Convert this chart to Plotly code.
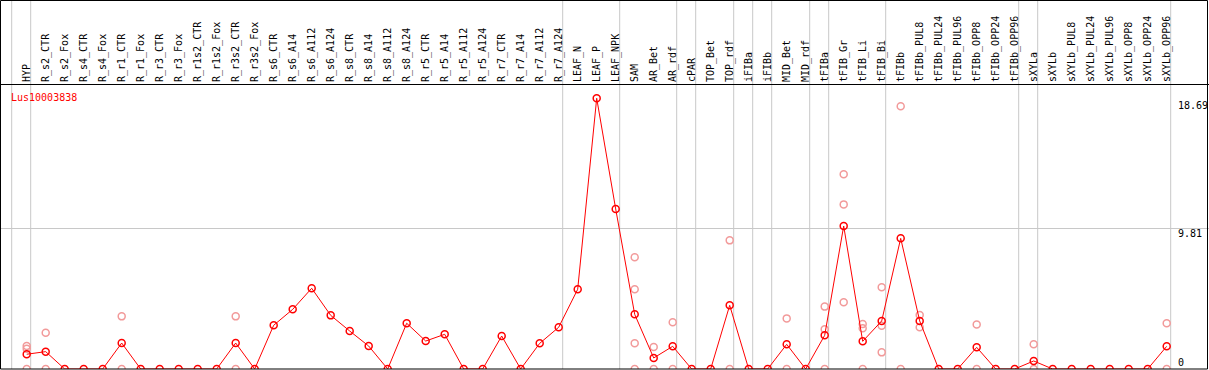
import plotly.graph_objects as go

categories = [
    "HYP",
    "R_s2_CTR", "R_s2_Fox", "R_s4_CTR", "R_s4_Fox", "R_r1_CTR", "R_r1_Fox",
    "R_r3_CTR", "R_r3_Fox", "R_r1s2_CTR", "R_r1s2_Fox", "R_r3s2_CTR", "R_r3s2_Fox",
    "R_s6_CTR", "R_s6_A14", "R_s6_A112", "R_s6_A124",
    "R_s8_CTR", "R_s8_A14", "R_s8_A112", "R_s8_A124",
    "R_r5_CTR", "R_r5_A14", "R_r5_A112", "R_r5_A124",
    "R_r7_CTR", "R_r7_A14", "R_r7_A112", "R_r7_A124",
    "LEAF_N", "LEAF_P", "LEAF_NPK",
    "SAM", "AR_Bet", "AR_rdf",
    "cPAR",
    "TOP_Bet", "TOP_rdf",
    "iFIBa",
    "iFIBb",
    "MID_Bet", "MID_rdf",
    "tFIBa",
    "tFIB_Gr", "tFIB_Li", "tFIB_Bi",
    "tFIBb", "tFIBb_PUL8", "tFIBb_PUL24", "tFIBb_PUL96", "tFIBb_OPP8", "tFIBb_OPP24", "tFIBb_OPP96",
    "sXYLa",
    "sXYLb", "sXYLb_PUL8", "sXYLb_PUL24", "sXYLb_PUL96", "sXYLb_OPP8", "sXYLb_OPP24", "sXYLb_OPP96",
]

groups = (
    ["HYP"] + ["ROOT"] * 28 + ["LEAF"] * 3 + ["SAM_AR"] * 3 + ["cPAR"] + ["TOP"] * 2
    + ["iFIBa"] + ["iFIBb"] + ["MID"] * 2 + ["tFIBa"] + ["tFIB_x"] * 3 + ["tFIBb"] * 7
    + ["sXYLa"] + ["sXYLb"] * 7
)

mean_values = [
    1.03, 1.21, 0, 0, 0, 1.81, 0, 0, 0, 0, 0, 1.81, 0,
    3.05, 4.16, 5.63, 3.74, 2.65, 1.60, 0, 3.19, 1.95, 2.42, 0, 0, 2.30, 0, 1.79, 2.91,
    5.56, 18.88, 11.16,
    3.81, 0.77, 1.58,
    0,
    0, 4.44,
    0,
    0,
    1.72, 0,
    2.35,
    9.97, 1.93, 3.35,
    9.11, 3.35, 0, 0, 1.51, 0, 0,
    0.56,
    0, 0, 0, 0, 0, 0, 1.58,
]

replicates = [
    [1.60, 1.42, 0], [2.53, 0], [], [], [], [3.67, 0], [], [], [], [], [], [3.67, 0], [],
    [], [], [], [], [], [], [], [], [], [], [], [], [], [], [], [],
    [], [], [],
    [7.79, 5.56, 1.79, 0], [1.53, 0], [3.26, 0],
    [],
    [], [8.97, 0],
    [],
    [],
    [3.53, 0], [],
    [4.35, 2.77, 0],
    [13.58, 11.48, 4.65], [3.14, 2.84, 0], [5.70, 3.02, 1.16],
    [18.32, 0], [3.77, 2.91], [], [], [3.11, 0], [], [],
    [1.72, 0],
    [], [], [], [], [], [], [3.19, 0],
]

scale_labels = [18.69, 9.81, 0]
gene_name = "Lus10003838"

FONT = "DejaVu Sans Mono"
W, H = 1209, 370
TOP, BOT = 85, 1
PX_STEP = 19.0
X0_PX = 26.7
PX_PER_UNIT = 14.34
plot_h = H - TOP - BOT

xs = list(range(len(categories)))
rep_x, rep_y = [], []
for i, reps in enumerate(replicates):
    for v in reps:
        rep_x.append(i)
        rep_y.append(v)

fig = go.Figure()
fig.add_trace(go.Scatter(
    x=rep_x, y=rep_y, mode="markers",
    marker=dict(symbol="circle-open", size=7, color="#f29a9a", line=dict(width=1.5, color="#f29a9a")),
    hoverinfo="skip",
))
fig.add_trace(go.Scatter(
    x=xs, y=mean_values, mode="lines+markers",
    line=dict(color="#ff0000", width=1),
    marker=dict(symbol="circle-open", size=7, color="#ff0000", line=dict(width=1.5, color="#ff0000")),
))

shapes = []
top_paper = 1 + TOP / plot_h
off = 4 / PX_STEP
shapes.append(dict(type="line", xref="x", yref="paper", x0=-1 + off, x1=-1 + off, y0=0, y1=top_paper,
                   line=dict(color="#c8c8c8", width=1), layer="below"))
for i in range(len(groups)):
    if i == len(groups) - 1 or groups[i] != groups[i + 1]:
        shapes.append(dict(type="line", xref="x", yref="paper", x0=i + off, x1=i + off, y0=0, y1=top_paper,
                           line=dict(color="#c8c8c8", width=1), layer="below"))
shapes.append(dict(type="rect", xref="paper", yref="paper",
                   x0=0.5 / W, x1=1207.5 / W, y0=0, y1=1 + (TOP - 0.5) / plot_h,
                   line=dict(color="black", width=1), fillcolor="rgba(0,0,0,0)"))

annotations = [dict(text=gene_name, xref="paper", yref="paper", x=9 / W, y=(plot_h - 12) / plot_h,
                    xanchor="left", yanchor="middle", showarrow=False,
                    font=dict(family=FONT, size=10, color="#ff0000"))]
for v in scale_labels:
    annotations.append(dict(text=f"{v:g}" if v == 0 else f"{v:.2f}", xref="paper", yref="y",
                            x=1176 / W, y=v, xanchor="left",
                            yanchor="bottom" if v == 0 else "middle",
                            yshift=-1 if v == 0 else -5, showarrow=False,
                            font=dict(family=FONT, size=10, color="black")))

fig.update_layout(
    width=W, height=H,
    margin=dict(l=0, r=0, t=TOP, b=BOT),
    paper_bgcolor="white", plot_bgcolor="white",
    showlegend=False,
    shapes=shapes, annotations=annotations,
    xaxis=dict(
        range=[-X0_PX / PX_STEP, (W - X0_PX) / PX_STEP],
        side="top", tickmode="array", tickvals=xs, ticktext=categories,
        tickangle=-90, ticks="", showgrid=False, zeroline=False,
        showline=True, linecolor="black", linewidth=1,
        tickfont=dict(family=FONT, size=10, color="black"),
    ),
    yaxis=dict(
        range=[0, plot_h / PX_PER_UNIT], tickmode="array", tickvals=[scale_labels[1]],
        showticklabels=False, showgrid=True, gridcolor="#c8c8c8", gridwidth=1,
        zeroline=False, showline=False,
    ),
)

fig.write_html(
    "out.html",
    config={"displayModeBar": False},
    post_script="document.body.style.margin='0';document.body.style.overflow='hidden';",
)
